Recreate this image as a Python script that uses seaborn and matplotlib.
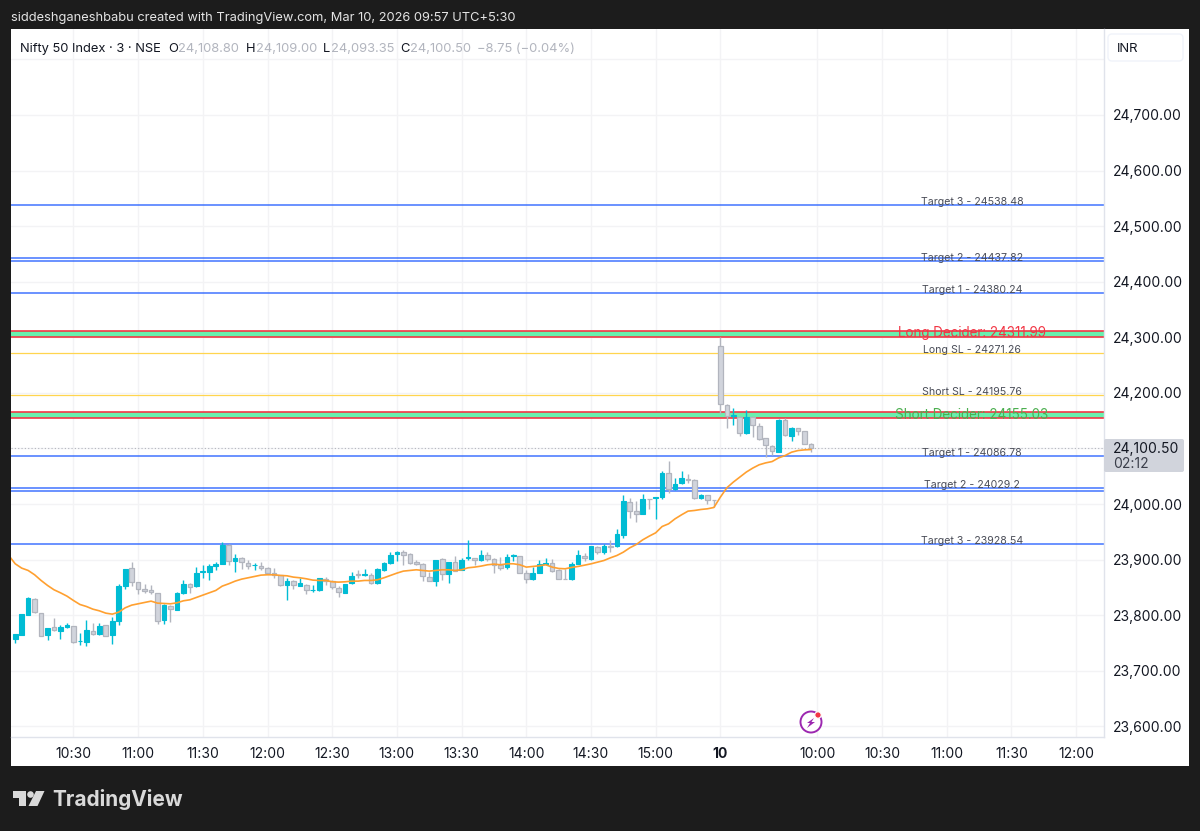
import numpy as np
import seaborn as sns
import matplotlib.pyplot as plt
from matplotlib.patches import Rectangle, FancyBboxPatch, Circle, Polygon

# 3 minute candles
opens = [23757.6, 23763.6, 23800.2, 23829.6, 23803.8, 23763.6, 23778.6, 23772.0, 23778.6, 23779.8,
         23753.4, 23751.0, 23771.4, 23765.4, 23781.6, 23763.6, 23789.4, 23852.4, 23884.8, 23860.2,
         23846.4, 23845.8, 23840.4, 23790.6, 23817.0, 23809.2, 23839.8, 23856.6, 23851.8, 23877.6,
         23878.2, 23888.4, 23892.6, 23925.6, 23896.8, 23903.4, 23893.8, 23889.6, 23889.0, 23885.4,
         23876.4, 23871.6, 23853.6, 23861.4, 23853.0, 23854.8, 23844.6, 23844.6, 23865.6, 23860.8,
         23849.4, 23839.8, 23857.8, 23873.4, 23872.2, 23871.6, 23857.2, 23881.8, 23893.8, 23910.0,
         23913.6, 23909.4, 23895.6, 23891.4, 23868.0, 23861.4, 23901.6, 23873.4, 23896.2, 23881.2,
         23902.8, 23902.8, 23898.6, 23908.2, 23901.0, 23889.6, 23886.6, 23907.0, 23905.8, 23876.4,
         23864.4, 23876.4, 23892.6, 23893.2, 23881.8, 23865.0, 23864.4, 23892.6, 23906.3, 23900.3,
         23922.5, 23912.9, 23923.7, 23923.7, 23944.7, 24004.1, 23987.3, 23982.5, 24008.9, 24011.3,
         24012.5, 24055.1, 24026.9, 24037.7, 24045.5, 24043.7, 24010.1, 24016.7, 24007.7, 24284.7,
         24179.1, 24158.1, 24157.5, 24128.1, 24156.3, 24140.7, 24118.5, 24104.7, 24093.9, 24151.5,
         24123.3, 24137.1, 24131.7, 24108.8]
highs = [23765.4, 23802.0, 23832.6, 23831.4, 23803.8, 23777.4, 23795.4, 23781.6, 23785.8, 23781.0,
         23767.8, 23790.6, 23785.8, 23785.8, 23782.8, 23796.6, 23856.6, 23883.6, 23895.0, 23860.2,
         23855.4, 23853.6, 23840.4, 23820.6, 23817.6, 23841.6, 23863.8, 23857.8, 23886.6, 23889.6,
         23892.6, 23895.6, 23931.0, 23927.4, 23909.4, 23904.6, 23898.6, 23894.4, 23896.2, 23886.6,
         23885.4, 23872.8, 23867.4, 23862.6, 23867.4, 23856.6, 23853.6, 23866.8, 23868.6, 23862.6,
         23852.4, 23856.0, 23877.6, 23881.8, 23882.4, 23875.8, 23885.4, 23895.6, 23913.6, 23915.4,
         23917.8, 23911.8, 23899.8, 23893.8, 23877.6, 23899.8, 23902.2, 23895.6, 23905.8, 23903.4,
         23935.8, 23902.8, 23917.8, 23913.6, 23903.4, 23904.6, 23909.4, 23910.6, 23907.0, 23880.6,
         23886.6, 23898.6, 23903.4, 23901.6, 23883.0, 23883.6, 23895.6, 23916.6, 23912.3, 23924.0,
         23923.7, 23928.5, 23935.7, 23954.9, 24015.5, 24011.3, 24005.3, 24018.5, 24008.9, 24011.9,
         24059.3, 24077.3, 24047.3, 24059.3, 24053.3, 24044.9, 24018.5, 24016.7, 24007.7, 24300.3,
         24180.3, 24173.1, 24159.3, 24169.5, 24159.3, 24145.5, 24119.1, 24105.9, 24153.3, 24155.1,
         24139.5, 24137.7, 24132.0, 24109.0]
lows = [23749.8, 23763.6, 23799.6, 23804.4, 23762.4, 23754.6, 23771.4, 23757.6, 23777.4, 23749.8,
        23745.6, 23744.4, 23763.6, 23763.6, 23762.4, 23748.6, 23781.6, 23847.0, 23851.8, 23837.4,
        23839.8, 23837.4, 23783.4, 23784.6, 23787.6, 23808.6, 23838.6, 23839.8, 23850.6, 23867.4,
        23863.8, 23880.6, 23891.4, 23890.8, 23877.6, 23882.4, 23883.6, 23881.8, 23880.6, 23873.4,
        23867.4, 23852.4, 23826.6, 23847.6, 23851.8, 23837.4, 23841.6, 23844.0, 23853.6, 23847.6,
        23832.6, 23839.2, 23856.6, 23867.4, 23870.4, 23855.4, 23856.6, 23879.4, 23892.6, 23897.4,
        23889.6, 23891.4, 23889.6, 23861.4, 23860.8, 23852.4, 23862.6, 23857.8, 23879.4, 23880.6,
        23898.6, 23889.6, 23897.4, 23897.4, 23875.8, 23880.6, 23883.0, 23897.4, 23875.8, 23858.4,
        23863.8, 23875.8, 23891.4, 23877.6, 23864.4, 23864.4, 23863.8, 23891.4, 23898.5, 23900.0,
        23909.3, 23910.5, 23913.5, 23922.5, 23939.3, 23975.3, 23967.5, 23981.3, 23990.9, 23972.9,
        24009.5, 24020.3, 24024.5, 24036.5, 24038.3, 24009.5, 24008.3, 23999.3, 23994.5, 24162.3,
        24137.1, 24141.9, 24123.3, 24126.3, 24120.3, 24115.5, 24085.5, 24089.1, 24093.3, 24122.7,
        24114.3, 24125.1, 24108.0, 24093.35]
closes = [23765.4, 23802.0, 23831.4, 23805.6, 23762.4, 23777.4, 23772.6, 23778.6, 23781.6, 23751.6,
          23754.0, 23772.6, 23765.4, 23779.8, 23762.4, 23789.4, 23853.0, 23883.0, 23859.6, 23846.4,
          23844.0, 23841.0, 23790.0, 23817.6, 23810.4, 23839.8, 23855.4, 23850.0, 23876.4, 23878.8,
          23889.0, 23892.6, 23926.8, 23896.8, 23903.4, 23895.6, 23887.8, 23890.8, 23884.8, 23875.8,
          23872.2, 23853.6, 23861.4, 23854.2, 23857.8, 23844.6, 23845.8, 23866.2, 23862.0, 23850.0,
          23841.6, 23855.4, 23871.0, 23872.2, 23874.6, 23858.4, 23883.0, 23893.8, 23908.2, 23913.6,
          23908.8, 23894.4, 23891.4, 23869.8, 23860.8, 23899.8, 23873.4, 23895.0, 23880.0, 23898.6,
          23904.0, 23898.6, 23908.2, 23901.0, 23890.8, 23884.8, 23904.6, 23908.2, 23876.4, 23864.4,
          23875.8, 23891.4, 23893.8, 23880.0, 23865.0, 23864.6, 23892.6, 23908.2, 23902.1, 23923.7,
          23912.9, 23923.7, 23922.5, 23945.3, 24005.3, 23987.3, 23982.5, 24009.5, 24008.3, 24011.9,
          24055.7, 24027.5, 24036.5, 24046.1, 24043.1, 24010.7, 24015.5, 24007.7, 24007.2, 24180.3,
          24158.1, 24159.9, 24128.1, 24157.5, 24141.9, 24117.3, 24105.9, 24096.3, 24151.5, 24123.9,
          24136.5, 24132.3, 24108.3, 24100.5]
# orange average, one point more on the left (runs off the edge)
avg_line = [23907.6, 23892.6, 23884.8, 23880.6, 23872.8, 23862.6, 23853.6, 23845.8, 23840.4, 23834.4,
            23826.6, 23819.4, 23815.8, 23811.0, 23808.0, 23803.8, 23802.0, 23805.6, 23813.4, 23818.2,
            23820.6, 23823.0, 23825.4, 23821.8, 23821.2, 23820.6, 23822.4, 23826.0, 23827.8, 23832.0,
            23836.2, 23840.4, 23844.6, 23852.4, 23856.6, 23861.4, 23865.0, 23867.4, 23869.8, 23872.2,
            23872.8, 23872.8, 23871.6, 23871.0, 23868.6, 23867.4, 23865.6, 23863.2, 23862.6, 23862.6,
            23860.2, 23859.6, 23860.2, 23861.4, 23861.4, 23862.6, 23862.6, 23863.8, 23867.4, 23871.6,
            23875.8, 23879.4, 23880.6, 23881.8, 23880.6, 23879.4, 23880.6, 23881.8, 23881.8, 23880.6,
            23881.8, 23885.4, 23886.6, 23888.4, 23890.8, 23892.0, 23890.8, 23892.6, 23892.6, 23890.8,
            23886.6, 23887.8, 23889.0, 23890.8, 23886.6, 23884.2, 23883.6, 23886.0, 23887.8, 23890.1,
            23892.5, 23895.5, 23898.5, 23903.3, 23907.5, 23913.5, 23921.3, 23927.3, 23935.7, 23942.3,
            23948.3, 23959.7, 23964.5, 23973.5, 23980.7, 23987.3, 23988.5, 23990.3, 23991.5, 23993.9,
            24012.5, 24029.3, 24039.5, 24048.5, 24057.5, 24064.7, 24070.7, 24074.1, 24076.5, 24083.1,
            24087.3, 24093.3, 24096.3, 24097.5, 24098.1]

blue_levels = [24538.48, 24443.2, 24437.82, 24380.24, 24086.78, 24029.2, 24024.0, 23928.54]
yellow_levels = [24271.26, 24195.76]
decider_bands = [(24301.0, 24311.99), (24154.5, 24165.0)]
last_price = 24100.5

line_labels = ["Target 3 - 24538.48", "Target 2 - 24437.82", "Target 1 - 24380.24", "Long SL - 24271.26",
               "Short SL - 24195.76", "Target 1 - 24086.78", "Target 2 - 24029.2", "Target 3 - 23928.54"]
label_levels = [24538.48, 24437.82, 24380.24, 24271.26, 24195.76, 24086.78, 24029.2, 23928.54]

price_ticks = [23600, 23700, 23800, 23900, 24000, 24100, 24200, 24300, 24400, 24500, 24600, 24700, 24800]
hidden_prices = [24100, 24800]
time_ticks = [9, 19, 29, 39, 49, 59, 69, 79, 89, 99, 109, 124, 134, 144, 154, 164]
time_labels = ["10:30", "11:00", "11:30", "12:00", "12:30", "13:00", "13:30", "14:00", "14:30", "15:00",
               "10", "10:00", "10:30", "11:00", "11:30", "12:00"]

TEAL = "#00bcd4"
GRAY = "#d1d4dc"
GRAY_EDGE = "#b2b5be"
BLUE = "#2962ff"
RED = "#f23645"
DARK = "#1c1c1c"
TXT = "#131722"

sns.set_theme(style="white")
plt.rcParams['font.family'] = ['Inter', 'DejaVu Sans']

fig = plt.figure(figsize=(12, 8.31), dpi=100, facecolor=DARK)
fig.add_artist(Rectangle((11 / 1200, 65 / 831), 1178 / 1200, 737 / 831, transform=fig.transFigure,
                         facecolor="white", edgecolor="none", zorder=-1))
ax = fig.add_axes([11 / 1200, 94.5 / 831, 1093 / 1200, 707.5 / 831], facecolor="white")

x = np.arange(len(opens))
o, h, l, c = map(np.array, (opens, highs, lows, closes))
up = c >= o

ax.set_axisbelow(True)
ax.grid(True, color="#f3f3f5", lw=1)

for level in yellow_levels:
    ax.axhline(level, color="#ffd54f", lw=0.9, zorder=1.5)
for low_edge, top_edge in decider_bands:
    ax.axhspan(low_edge, top_edge, color="#69f0ae", lw=0, zorder=1.5)
    ax.axhline(low_edge, color=RED, lw=1.2, zorder=1.6)
    ax.axhline(top_edge, color=RED, lw=1.2, zorder=1.6)
for level in blue_levels:
    ax.axhline(level, color=BLUE, lw=1.15, alpha=0.85, zorder=1.5)
ax.axhline(last_price, color=GRAY_EDGE, lw=0.8, ls=(0, (1, 2)), zorder=1.5)

ax.vlines(x[up], l[up], h[up], color=TEAL, lw=1, zorder=3)
ax.vlines(x[~up], l[~up], h[~up], color=GRAY_EDGE, lw=1, zorder=3)
ax.bar(x[up], (c - o)[up], bottom=o[up], width=0.72, color=TEAL, edgecolor=TEAL, lw=0.8, zorder=4)
ax.bar(x[~up], (o - c)[~up], bottom=c[~up], width=0.72, color=GRAY, edgecolor=GRAY_EDGE, lw=0.9, zorder=4)

sns.lineplot(x=np.arange(-1, len(avg_line) - 1), y=avg_line, color="#ffa030", lw=1.2, ax=ax, zorder=5,
             errorbar=None)

for level, label in zip(label_levels, line_labels):
    ax.annotate(label, (147.9, level), xytext=(0, 2.2), textcoords="offset points", ha="center", va="center",
                fontsize=7.6, color="#4a4d58", zorder=6)
ax.annotate("Long Decider: 24311.99", (147.9, 24311.99), xytext=(0, -1.6), textcoords="offset points",
            ha="center", va="center", fontsize=9.7, color=RED, zorder=6)
ax.annotate("Short Decider: 24155.03", (147.9, 24155.03), xytext=(0, 1.8), textcoords="offset points",
            ha="center", va="center", fontsize=9.7, color="#4caf50", zorder=6)

ax.set_xlim(-0.65, 168.3)
ax.set_ylim(23581.9, 24854.6)
ax.set_xticks(time_ticks)
ax.set_xticklabels(time_labels)
ax.get_xticklabels()[10].set_fontweight("bold")
ax.set_yticks(price_ticks)
ax.set_yticklabels(["" if p in hidden_prices else f"{p:,.2f}" for p in price_ticks])
ax.yaxis.tick_right()
ax.tick_params(axis="both", length=0, labelcolor=TXT, labelsize=10)
ax.tick_params(axis="x", pad=7.5)
ax.tick_params(axis="y", pad=6.5)
ax.set_xlabel("")
ax.set_ylabel("")
for side in ("top", "left"):
    ax.spines[side].set_visible(False)
for side in ("right", "bottom"):
    ax.spines[side].set_color("#e0e3eb")
    ax.spines[side].set_linewidth(1)

# page furniture in pixel coordinates
over = fig.add_axes([0, 0, 1, 1], facecolor="none")
over.set_xlim(0, 1200)
over.set_ylim(831, 0)
over.axis("off")

over.text(11, 18, "siddeshganeshbabu created with TradingView.com, Mar 10, 2026 09:57 UTC+5:30",
          color="#e4e4e4", fontsize=9.25, va="center")

over.text(20, 49, "Nifty 50 Index · 3 · NSE", color=TXT, fontsize=9.3, va="center")
for xpos, letter, xval, val in [(168, "O", 178, "24,108.80"), (246, "H", 256, "24,109.00"),
                                (323, "L", 331, "24,093.35"), (400, "C", 410, "24,100.50")]:
    over.text(xpos, 49, letter, color=TXT, fontsize=9.3, va="center")
    over.text(xval, 49, val, color=GRAY_EDGE, fontsize=9.3, va="center")
over.text(477, 49, "−8.75 (−0.04%)", color=GRAY_EDGE, fontsize=9.3, va="center")

over.add_patch(FancyBboxPatch((1108, 34), 75, 27, boxstyle="round,pad=0,rounding_size=4",
                              facecolor="white", edgecolor="#f0f3fa", lw=1))
over.text(1117, 48.5, "INR", color=TXT, fontsize=9.4, va="center")

# last price tag
over.add_patch(FancyBboxPatch((1104, 439), 80, 33, boxstyle="round,pad=0,rounding_size=2",
                              facecolor=GRAY, edgecolor="none"))
over.text(1113, 448.5, "24,100.50", color=TXT, fontsize=10, va="center")
over.text(1113, 464, "02:12", color="#3a3e4a", fontsize=10, va="center")

# bolt marker
over.add_patch(Circle((811, 722), 10.5, facecolor="white", edgecolor="#9c27b0", lw=1.4))
over.add_patch(Polygon([(814, 718), (807, 723), (810, 723), (807, 728), (815, 722), (811.5, 722)],
                       facecolor="#9c27b0", edgecolor="none"))
over.add_patch(Circle((818, 715), 3.2, facecolor=RED, edgecolor="white", lw=0.8))

# logo
logo = "#d9d9d9"
over.add_patch(Polygon([(13, 791), (26, 791), (26, 806), (18.5, 806), (18.5, 797.5), (13, 797.5)],
                       facecolor=logo, edgecolor="none"))
over.add_patch(Circle((30.5, 794.5), 3.3, facecolor=logo, edgecolor="none"))
over.add_patch(Polygon([(36, 791), (44.5, 791), (37.5, 806), (28.5, 806)], facecolor=logo, edgecolor="none"))
over.text(52, 799.5, "TradingView", color=logo, fontsize=15, fontweight="bold", va="center")

fig.savefig("out.png", dpi=100, facecolor=DARK)
